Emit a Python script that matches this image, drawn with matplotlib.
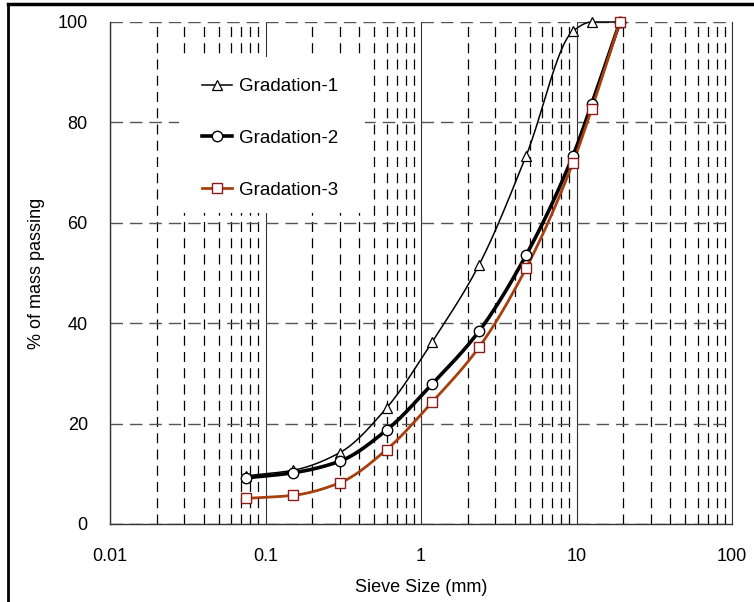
import numpy as np
import matplotlib
matplotlib.use("Agg")
import matplotlib.pyplot as plt
from matplotlib.lines import Line2D
from matplotlib.patches import Rectangle
from matplotlib.ticker import LogLocator, FixedLocator, NullFormatter, FixedFormatter

plt.rcParams['font.family'] = ['Liberation Sans', 'DejaVu Sans']

sieve = [0.075, 0.15, 0.3, 0.6, 1.18, 2.36, 4.75, 9.5, 12.5, 19.0]
grad1 = [9.6, 10.7, 14.2, 23.1, 36.3, 51.6, 73.4, 98.2, 100.0, 100.0]
grad2 = [9.2, 10.2, 12.5, 18.7, 27.9, 38.4, 53.6, 73.4, 83.6, 100.0]
grad3 = [5.1, 5.7, 8.2, 14.8, 24.3, 35.2, 51.0, 72.0, 82.6, 100.0]
labels = ['Gradation-1', 'Gradation-2', 'Gradation-3']
xticks = [0.01, 0.1, 1, 10, 100]
xticklabels = ['0.01', '0.1', '1', '10', '100']
yticks = [0, 20, 40, 60, 80, 100]


def smooth(xs, ys, n=40):
    # monotone cubic (Fritsch-Carlson) curve through the points, in log-x space
    x = np.log10(np.asarray(xs, float))
    y = np.asarray(ys, float)
    h = np.diff(x)
    d = np.diff(y) / h
    m = np.zeros_like(y)
    m[0], m[-1] = d[0], d[-1]
    for i in range(1, len(y) - 1):
        if d[i - 1] * d[i] <= 0:
            m[i] = 0.0
        else:
            w1 = 2 * h[i] + h[i - 1]
            w2 = h[i] + 2 * h[i - 1]
            m[i] = (w1 + w2) / (w1 / d[i - 1] + w2 / d[i])
    ox, oy = [], []
    for i in range(len(y) - 1):
        t = np.linspace(0, 1, n, endpoint=False)
        h00 = 2 * t ** 3 - 3 * t ** 2 + 1
        h10 = t ** 3 - 2 * t ** 2 + t
        h01 = -2 * t ** 3 + 3 * t ** 2
        h11 = t ** 3 - t ** 2
        ox.append(x[i] + t * h[i])
        oy.append(h00 * y[i] + h10 * h[i] * m[i] + h01 * y[i + 1] + h11 * h[i] * m[i + 1])
    ox.append([x[-1]])
    oy.append([y[-1]])
    return 10 ** np.concatenate(ox), np.concatenate(oy)


W, H = 754, 602
fig = plt.figure(figsize=(W / 100, H / 100), dpi=100)
ax = fig.add_axes([110 / W, 1 - 524 / H, (732 - 110) / W, (524 - 22) / H])

ax.set_xscale('log')
ax.set_xlim(0.01, 100)
ax.set_ylim(0, 100)

# gridlines
ax.xaxis.set_major_locator(FixedLocator(xticks))
ax.xaxis.set_major_formatter(FixedFormatter(xticklabels))
ax.xaxis.set_minor_locator(LogLocator(base=10, subs=np.arange(2, 10)))
ax.xaxis.set_minor_formatter(NullFormatter())
ax.yaxis.set_major_locator(FixedLocator(yticks))
ax.grid(True, which='major', axis='x', color='#333333', lw=0.8, ls='-')
ax.grid(True, which='minor', axis='x', color='black', lw=0.9, ls=(0, (8, 5)))
ax.grid(True, which='major', axis='y', color='#555555', lw=1.0, ls=(0, (9, 5)))
ax.tick_params(which='both', length=0, labelsize=13)
ax.tick_params(axis='y', pad=16)
ax.tick_params(axis='x', pad=17)
ax.set_axisbelow(True)

ax.spines['top'].set_visible(False)
for s in ['right', 'left', 'bottom']:
    ax.spines[s].set_color('#333333')
ax.spines['right'].set_linewidth(0.8)
ax.spines['left'].set_linewidth(1.0)
ax.spines['bottom'].set_linewidth(1.0)

# white legend background box covering gridlines
ax.add_patch(Rectangle((179 / W, 1 - 213 / H), (365 - 179) / W, (213 - 57) / H,
                       transform=fig.transFigure, facecolor='white', edgecolor='none', zorder=1))

brown = '#A8400E'
mred = '#8B1A1A'
ms = 7.5

sx, sy = smooth(sieve, grad1)
ax.plot(sx, sy, color='black', lw=1.1, zorder=3, clip_on=False)
ax.plot(sieve, grad1, ls='none', marker='^', ms=ms, mfc='white', mec='black', mew=0.9, zorder=4, clip_on=False)

sx, sy = smooth(sieve, grad2)
ax.plot(sx, sy, color='black', lw=2.6, zorder=3, clip_on=False)
ax.plot(sieve, grad2, ls='none', marker='o', ms=ms, mfc='white', mec='black', mew=1.0, zorder=4, clip_on=False)

sx, sy = smooth(sieve, grad3)
ax.plot(sx, sy, color=brown, lw=2.0, zorder=3, clip_on=False)
ax.plot(sieve, grad3, ls='none', marker='s', ms=ms, mfc='white', mec=mred, mew=1.0, zorder=5, clip_on=False)

handles = [
    Line2D([], [], color='black', lw=1.1, marker='^', ms=ms, mfc='white', mec='black', mew=0.9),
    Line2D([], [], color='black', lw=2.6, marker='o', ms=ms, mfc='white', mec='black', mew=1.0),
    Line2D([], [], color=brown, lw=2.0, marker='s', ms=ms, mfc='white', mec=mred, mew=1.0),
]
leg = ax.legend(handles, labels, loc='upper left', bbox_to_anchor=(202 / W, 1 - 78 / H),
                bbox_transform=fig.transFigure, frameon=False,
                fontsize=13.5, labelspacing=1.85, handlelength=1.6, handletextpad=0.35,
                borderpad=0, borderaxespad=0)
leg.set_zorder(6)

ax.set_xlabel('Sieve Size (mm)', fontsize=13, labelpad=10)
ax.set_ylabel('% of mass passing', fontsize=13, labelpad=9)

# outer frame lines (left and top)
fig.add_artist(Line2D([8 / W, 8 / W], [0, 1 - 4 / H], transform=fig.transFigure, color='black', lw=2))
fig.add_artist(Line2D([8 / W, 1], [1 - 4 / H, 1 - 4 / H], transform=fig.transFigure, color='black', lw=2.5))

fig.savefig('out.png', dpi=100)
